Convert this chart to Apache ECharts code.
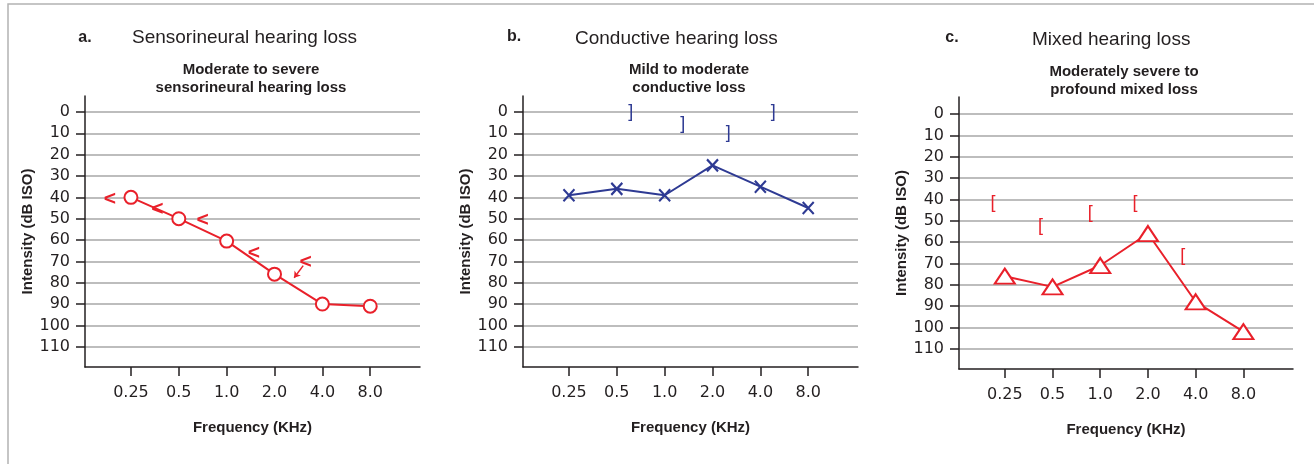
<!DOCTYPE html>
<html>
<head>
<meta charset="utf-8">
<title>Audiograms - hearing loss types</title>
<script src="https://cdn.jsdelivr.net/npm/echarts@6/dist/echarts.min.js"></script>
<style>
  html, body { margin: 0; padding: 0; background: #fff; }
  #container { width: 1314px; height: 464px; }
</style>
</head>
<body>
<div id="container"></div>
<script>
// frequency ticks (KHz), drawn at positions 0..5
var freqLabels = ['0.25', '0.5', '1.0', '2.0', '4.0', '8.0'];
var freqPos = [0, 1, 2, 3, 4, 5];
var dbTicks = [0, 10, 20, 30, 40, 50, 60, 70, 80, 90, 100, 110];

// a. sensorineural: air conduction (circles) + bone "<" marks
var sensAir = [40, 50, 60.5, 76, 90, 91];
var sensBoneX = [-0.44, 0.55, 1.5, 2.57, 3.65];
var sensBoneY = [40, 44.5, 50, 65, 69.5];
var sensArrow = [[3.6, 72], [3.41, 77.7]];

// b. conductive: air (x) + bone "]" marks
var condAir = [39, 36, 39, 25, 35, 45];
var condBoneX = [1.29, 2.38, 3.33, 4.27];
var condBoneY = [0, 5.5, 10, 0];

// c. mixed: air (triangles) + bone "[" marks
var mixAir = [76, 81, 71, 56, 88, 102];
var mixBoneX = [-0.25, 0.75, 1.79, 2.73, 3.73];
var mixBoneY = [41.7, 52.4, 46.3, 41.7, 66.5];

(() => {
  var dom = document.getElementById("container");
  var myChart = echarts.init(dom);
  var option = null;

  var RED = '#e9202a';
  var BLUE = '#2e3a93';
  var INK = '#231f20';
  var FONT = 'Liberation Sans';

  var indexed = ys => ys.map((y, i) => [i, y]);
  var pairs = (xs, ys) => xs.map((x, i) => [x, ys[i]]);

  var xAxisOf = g => ({
    gridIndex: g,
    type: 'value',
    min: -0.96,
    max: 6.04,
    name: 'Frequency (KHz)',
    nameLocation: 'middle',
    nameGap: 53,
    nameTextStyle: { fontFamily: FONT, fontWeight: 'bold', fontSize: 15, color: INK },
    axisLine: { onZero: false, lineStyle: { color: INK, width: 1.5 } },
    axisTick: { customValues: freqPos, length: 9, lineStyle: { color: INK, width: 1.5 } },
    axisLabel: {
      customValues: freqPos,
      formatter: v => freqLabels[Math.round(v)],
      margin: 18,
      fontSize: 16,
      fontFamily: 'DejaVu Sans',
      color: INK
    },
    splitLine: { show: false }
  });

  var yAxisOf = (g, min) => ({
    gridIndex: g,
    type: 'value',
    inverse: true,
    min: min,
    max: 119.5,
    name: 'Intensity (dB ISO)',
    nameLocation: 'middle',
    nameGap: 46,
    nameRotate: 90,
    nameTextStyle: { fontFamily: FONT, fontWeight: 'bold', fontSize: 15, color: INK },
    axisLine: { show: true, onZero: false, lineStyle: { color: INK, width: 1.5 } },
    axisTick: { show: true, customValues: dbTicks, length: 9, lineStyle: { color: INK, width: 1.5 } },
    axisLabel: { customValues: dbTicks, margin: 15, fontSize: 16, fontFamily: 'DejaVu Sans', color: INK },
    splitLine: { show: true, lineStyle: { color: '#a7a7a7', width: 1.5 } }
  });

  var xPath = 'path://M0,0L10,12M10,0L0,12';

  // bone conduction marks are drawn as text glyphs on invisible points
  var marks = (g, data, glyph, color, size, weight, dy) => ({
    type: 'scatter',
    xAxisIndex: g,
    yAxisIndex: g,
    data: data,
    symbolSize: 0,
    silent: true,
    itemStyle: { opacity: 1 },
    label: {
      show: true,
      position: 'inside',
      offset: [0, dy],
      formatter: glyph,
      color: color,
      opacity: 1,
      fontSize: size,
      fontWeight: weight,
      fontFamily: FONT
    }
  });

  var text = (x, y, s, font, align) => ({
    type: 'text',
    x: x,
    y: y,
    style: {
      text: s,
      font: font,
      fill: INK,
      textAlign: align || 'left',
      textVerticalAlign: 'middle',
      lineHeight: 18
    }
  });

  option = {
    animation: false,
    backgroundColor: '#fff',
    grid: [
      { left: 85, top: 96, width: 335, height: 271 },
      { left: 523, top: 96, width: 335, height: 271 },
      { left: 959, top: 97, width: 334, height: 272 }
    ],
    xAxis: [xAxisOf(0), xAxisOf(1), xAxisOf(2)],
    yAxis: [yAxisOf(0, -7.5), yAxisOf(1, -7.5), yAxisOf(2, -8)],
    graphic: [
      { type: 'polyline', shape: { points: [[8, 464], [8, 4], [1314, 4]] }, style: { stroke: '#b3b3b3', lineWidth: 1.5, fill: null } },
      text(85, 38, 'a.', 'bold 16px "Liberation Sans"', 'center'),
      text(132, 38, 'Sensorineural hearing loss', '19px "Liberation Sans"'),
      text(251, 79, 'Moderate to severe\nsensorineural hearing loss', 'bold 15px "Liberation Sans"', 'center'),
      text(514, 37, 'b.', 'bold 16px "Liberation Sans"', 'center'),
      text(575, 39, 'Conductive hearing loss', '19px "Liberation Sans"'),
      text(689, 79, 'Mild to moderate\nconductive loss', 'bold 15px "Liberation Sans"', 'center'),
      text(952, 38, 'c.', 'bold 16px "Liberation Sans"', 'center'),
      text(1032, 40, 'Mixed hearing loss', '19px "Liberation Sans"'),
      text(1124, 81, 'Moderately severe to\nprofound mixed loss', 'bold 15px "Liberation Sans"', 'center')
    ],
    series: [
      {
        type: 'line',
        xAxisIndex: 0,
        yAxisIndex: 0,
        data: indexed(sensAir),
        symbol: 'emptyCircle',
        symbolSize: 13,
        lineStyle: { color: RED, width: 2 },
        itemStyle: { color: RED, borderWidth: 2.5 }
      },
      marks(0, pairs(sensBoneX, sensBoneY), '<', RED, 21, 'bold', 2),
      {
        type: 'lines',
        coordinateSystem: 'cartesian2d',
        xAxisIndex: 0,
        yAxisIndex: 0,
        symbol: ['none', 'arrow'],
        symbolSize: 6,
        lineStyle: { color: RED, width: 1.5, opacity: 1 },
        data: [{ coords: sensArrow }]
      },
      {
        type: 'line',
        xAxisIndex: 1,
        yAxisIndex: 1,
        data: indexed(condAir),
        symbol: xPath,
        symbolSize: [11, 12],
        lineStyle: { color: BLUE, width: 2 },
        itemStyle: { color: 'none', borderColor: BLUE, borderWidth: 2.2 }
      },
      marks(1, pairs(condBoneX, condBoneY), ']', BLUE, 18, 'normal', 0),
      {
        type: 'line',
        xAxisIndex: 2,
        yAxisIndex: 2,
        data: indexed(mixAir),
        symbol: 'emptyTriangle',
        symbolSize: [20, 15],
        lineStyle: { color: RED, width: 2 },
        itemStyle: { color: RED, borderWidth: 2 }
      },
      marks(2, pairs(mixBoneX, mixBoneY), '[', RED, 18, 'normal', 0)
    ]
  };

  if (option && typeof option === "object") {
    myChart.setOption(option, true);
  }
})();
</script>
</body>
</html>
